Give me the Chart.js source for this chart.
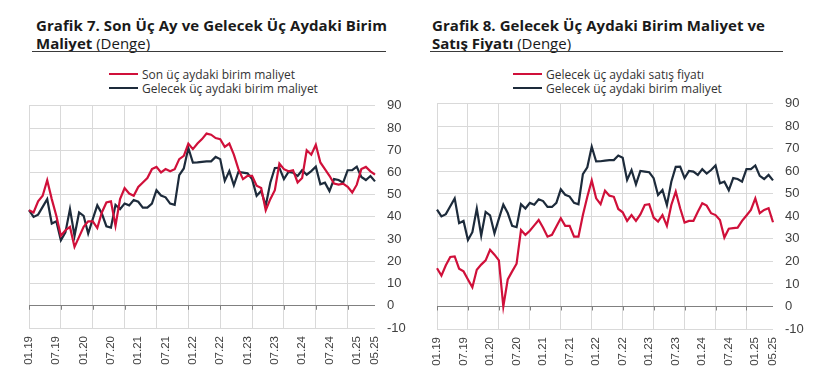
<!DOCTYPE html>
<html lang="tr">
<head>
<meta charset="UTF-8">
<title>Grafik 7 - Grafik 8</title>
<script src="https://cdn.jsdelivr.net/npm/chart.js"></script>
<style>
  body { margin: 0; background: #fff; font-family: "Open Sans", sans-serif; color: #222; }
  #page { position: relative; width: 820px; height: 385px; overflow: hidden; }
  .title { position: absolute; top: 17px; font-size: 15px; line-height: 17.5px; color: #1a1a1a; white-space: nowrap; }
  .title b { font-weight: 700; }
  .title .l1 { display: inline-block; }
  .rule { position: absolute; top: 51px; height: 1px; background: #3a3a3a; }
  .legend { position: absolute; top: 67px; font-size: 12px; color: #333; }
  .legend div { display: flex; align-items: center; height: 14px; white-space: nowrap; }
  .legend span { display: inline-block; width: 29px; height: 2.5px; margin-right: 4px; }
  .chart { position: absolute; width: 410px; }
</style>
</head>
<body>
<div id="page">
  <div class="title" style="left:36px"><b><span class="l1" data-w="351">Grafik 7. Son Üç Ay ve Gelecek Üç Aydaki Birim</span><br>Maliyet</b> (Denge)</div>
  <div class="rule" style="left:32px;width:354px"></div>
  <div class="legend" style="left:109px">
    <div><span style="background:#d0103a"></span>Son üç aydaki birim maliyet</div>
    <div><span style="background:#1d2b3b"></span>Gelecek üç aydaki birim maliyet</div>
  </div>
  <div class="chart" style="left:0;top:86px;height:299px"><canvas id="chart7"></canvas></div>

  <div class="title" style="left:432px"><b><span class="l1" data-w="333">Grafik 8. Gelecek Üç Aydaki Birim Maliyet ve</span><br>Satış Fiyatı</b> (Denge)</div>
  <div class="rule" style="left:430px;width:353px"></div>
  <div class="legend" style="left:513px">
    <div><span style="background:#d0103a"></span>Gelecek üç aydaki satış fiyatı</div>
    <div><span style="background:#1d2b3b"></span>Gelecek üç aydaki birim maliyet</div>
  </div>
  <div class="chart" style="left:410px;top:84px;height:301px"><canvas id="chart8"></canvas></div>
</div>
<script>
// monthly categories 01.19 .. 05.25
const months = [];
for (let y = 19; y <= 25; y++) {
  for (let m = 1; m <= 12; m++) {
    if (y === 25 && m > 5) break;
    months.push(String(m).padStart(2, '0') + '.' + y);
  }
}
const tickLabels = ['01.19', '07.19', '01.20', '07.20', '01.21', '07.21', '01.22', '07.22',
  '01.23', '07.23', '01.24', '07.24', '01.25', '05.25'];

// Son üç aydaki birim maliyet
const sonBirimMaliyet = [
  43, 42, 47, 49.5, 56.5, 48, 40.5, 31.5, 34, 35.5, 26.5, 31, 35.5, 38, 38, 35,
  42, 46.5, 47, 36, 48, 53, 50.5, 49.5, 53.5, 55.5, 57.5, 61.5, 62.5, 60, 61.5, 60.5,
  61.5, 66, 67.5, 73, 70.5, 73, 75, 77.5, 77, 75.5, 75, 71.5, 73, 68, 61.5, 57,
  58.5, 58.5, 54, 53, 43, 48, 52, 64, 61.5, 60.5, 61, 55.5, 57.5, 70, 68, 72.5,
  64.5, 61.5, 58.5, 55, 54.5, 55, 53.5, 51, 54.5, 61.5, 62.5, 60.5, 59
];
// Gelecek üç aydaki birim maliyet
const gelecekBirimMaliyet = [
  43, 40, 41, 44.5, 48, 37, 38, 29.5, 33, 43.5, 31.5, 42, 40.5, 32.5, 39, 45.2,
  41.5, 35.8, 35.2, 45.4, 43.5, 46, 45.2, 47.6, 46.8, 44.2, 44.2, 46, 52, 49.6, 48.8, 46,
  45.4, 58.8, 61.8, 71, 64.4, 64.5, 64.8, 65, 65, 67, 66, 56.2, 60.6, 54.2, 60.2, 59.9,
  59.6, 57, 49.5, 51.7, 45, 55.4, 62, 62.1, 57, 60.2, 59.9, 58.4, 61, 59, 60.6, 62.6,
  54.7, 55.4, 51.6, 57, 56.6, 55.4, 61, 61, 62.6, 58, 56.6, 58.4, 56
];
// Gelecek üç aydaki satış fiyatı
const gelecekSatisFiyati = [
  17, 13.7, 18.3, 22, 22.2, 16.8, 15.6, 12, 8.5, 16.3, 18.6, 20.5, 25.2, 23, 20.5, 0,
  12, 15.6, 19, 34, 31.8, 33.6, 36, 38.4, 35, 31, 31.8, 35.5, 39.2, 35.8, 35.8, 31,
  31, 40.6, 48.7, 56, 48, 45.4, 51.4, 49.2, 48.7, 43.3, 41.8, 38, 40.6, 38, 40.9, 45.1,
  45.4, 39.5, 37.7, 40.6, 35.8, 45.1, 51, 43.6, 37.3, 38, 38, 42.1, 45.8, 44.8, 41.4, 40.6,
  38.4, 30.6, 34.5, 34.8, 35, 38, 40.4, 42.9, 48, 41.4, 42.9, 43.6, 37.4
];

const RED = '#d0103a';
const NAVY = '#1d2b3b';

// stretch first title line to the width it has in the original
document.querySelectorAll('.l1').forEach(el => {
  const target = +el.dataset.w;
  const w = el.getBoundingClientRect().width;
  const n = el.textContent.length;
  el.style.letterSpacing = ((target - w) / n).toFixed(2) + 'px';
});

// small tick marks hanging below the zero line
const zeroTicks = {
  id: 'zeroTicks',
  beforeDatasetsDraw(chart) {
    const x = chart.scales.x, y = chart.scales.y;
    const y0 = y.getPixelForValue(0);
    const ctx = chart.ctx;
    ctx.save();
    ctx.strokeStyle = '#808080';
    ctx.lineWidth = 1;
    ctx.beginPath();
    months.forEach((m, i) => {
      if (i % 7 === 0) {
        const px = Math.round(x.getPixelForValue(i)) + 0.5;
        ctx.moveTo(px, y0);
        ctx.lineTo(px, y0 + 4);
      }
    });
    ctx.stroke();
    ctx.restore();
  }
};

function makeChart(id, redData, redLabel, padLeft, yWidth, xHeight) {
  new Chart(document.getElementById(id), {
    type: 'line',
    data: {
      labels: months,
      datasets: [
        { label: redLabel, data: redData, borderColor: RED, borderWidth: 2.2, pointRadius: 0, tension: 0 },
        { label: 'Gelecek üç aydaki birim maliyet', data: gelecekBirimMaliyet, borderColor: NAVY, borderWidth: 2.2, pointRadius: 0, tension: 0 }
      ]
    },
    options: {
      responsive: true,
      maintainAspectRatio: false,
      animation: false,
      layout: { padding: { left: padLeft, top: 0, right: 0, bottom: 0 } },
      plugins: { legend: { display: false }, tooltip: { enabled: false } },
      scales: {
        x: {
          ticks: {
            autoSkip: false,
            minRotation: 90,
            maxRotation: 90,
            padding: 8,
            color: '#404040',
            font: { family: 'Liberation Sans, Arial', size: 11.5 },
            callback: (v, i) => tickLabels.includes(months[i]) ? months[i] : ''
          },
          grid: {
            drawTicks: false,
            color: c => (c.index % 7 === 0 ? '#d9d9d9' : 'rgba(0,0,0,0)'),
            lineWidth: 1
          },
          border: { display: false },
          afterFit: s => { s.height = xHeight; }
        },
        y: {
          position: 'right',
          min: -10,
          max: 90,
          ticks: {
            stepSize: 10,
            padding: 12,
            color: '#404040',
            font: { family: 'Liberation Sans, Arial', size: 13 }
          },
          grid: {
            drawTicks: false,
            color: c => (c.tick && c.tick.value === 0 ? '#808080' : '#d9d9d9'),
            lineWidth: 1
          },
          border: { display: false },
          afterFit: s => { s.width = yWidth; }
        }
      }
    },
    plugins: [zeroTicks]
  });
}

makeChart('chart7', sonBirimMaliyet, 'Son üç aydaki birim maliyet', 29, 35, 57);
makeChart('chart8', gelecekSatisFiyati, 'Gelecek üç aydaki satış fiyatı', 27, 47, 56);
</script>
</body>
</html>
